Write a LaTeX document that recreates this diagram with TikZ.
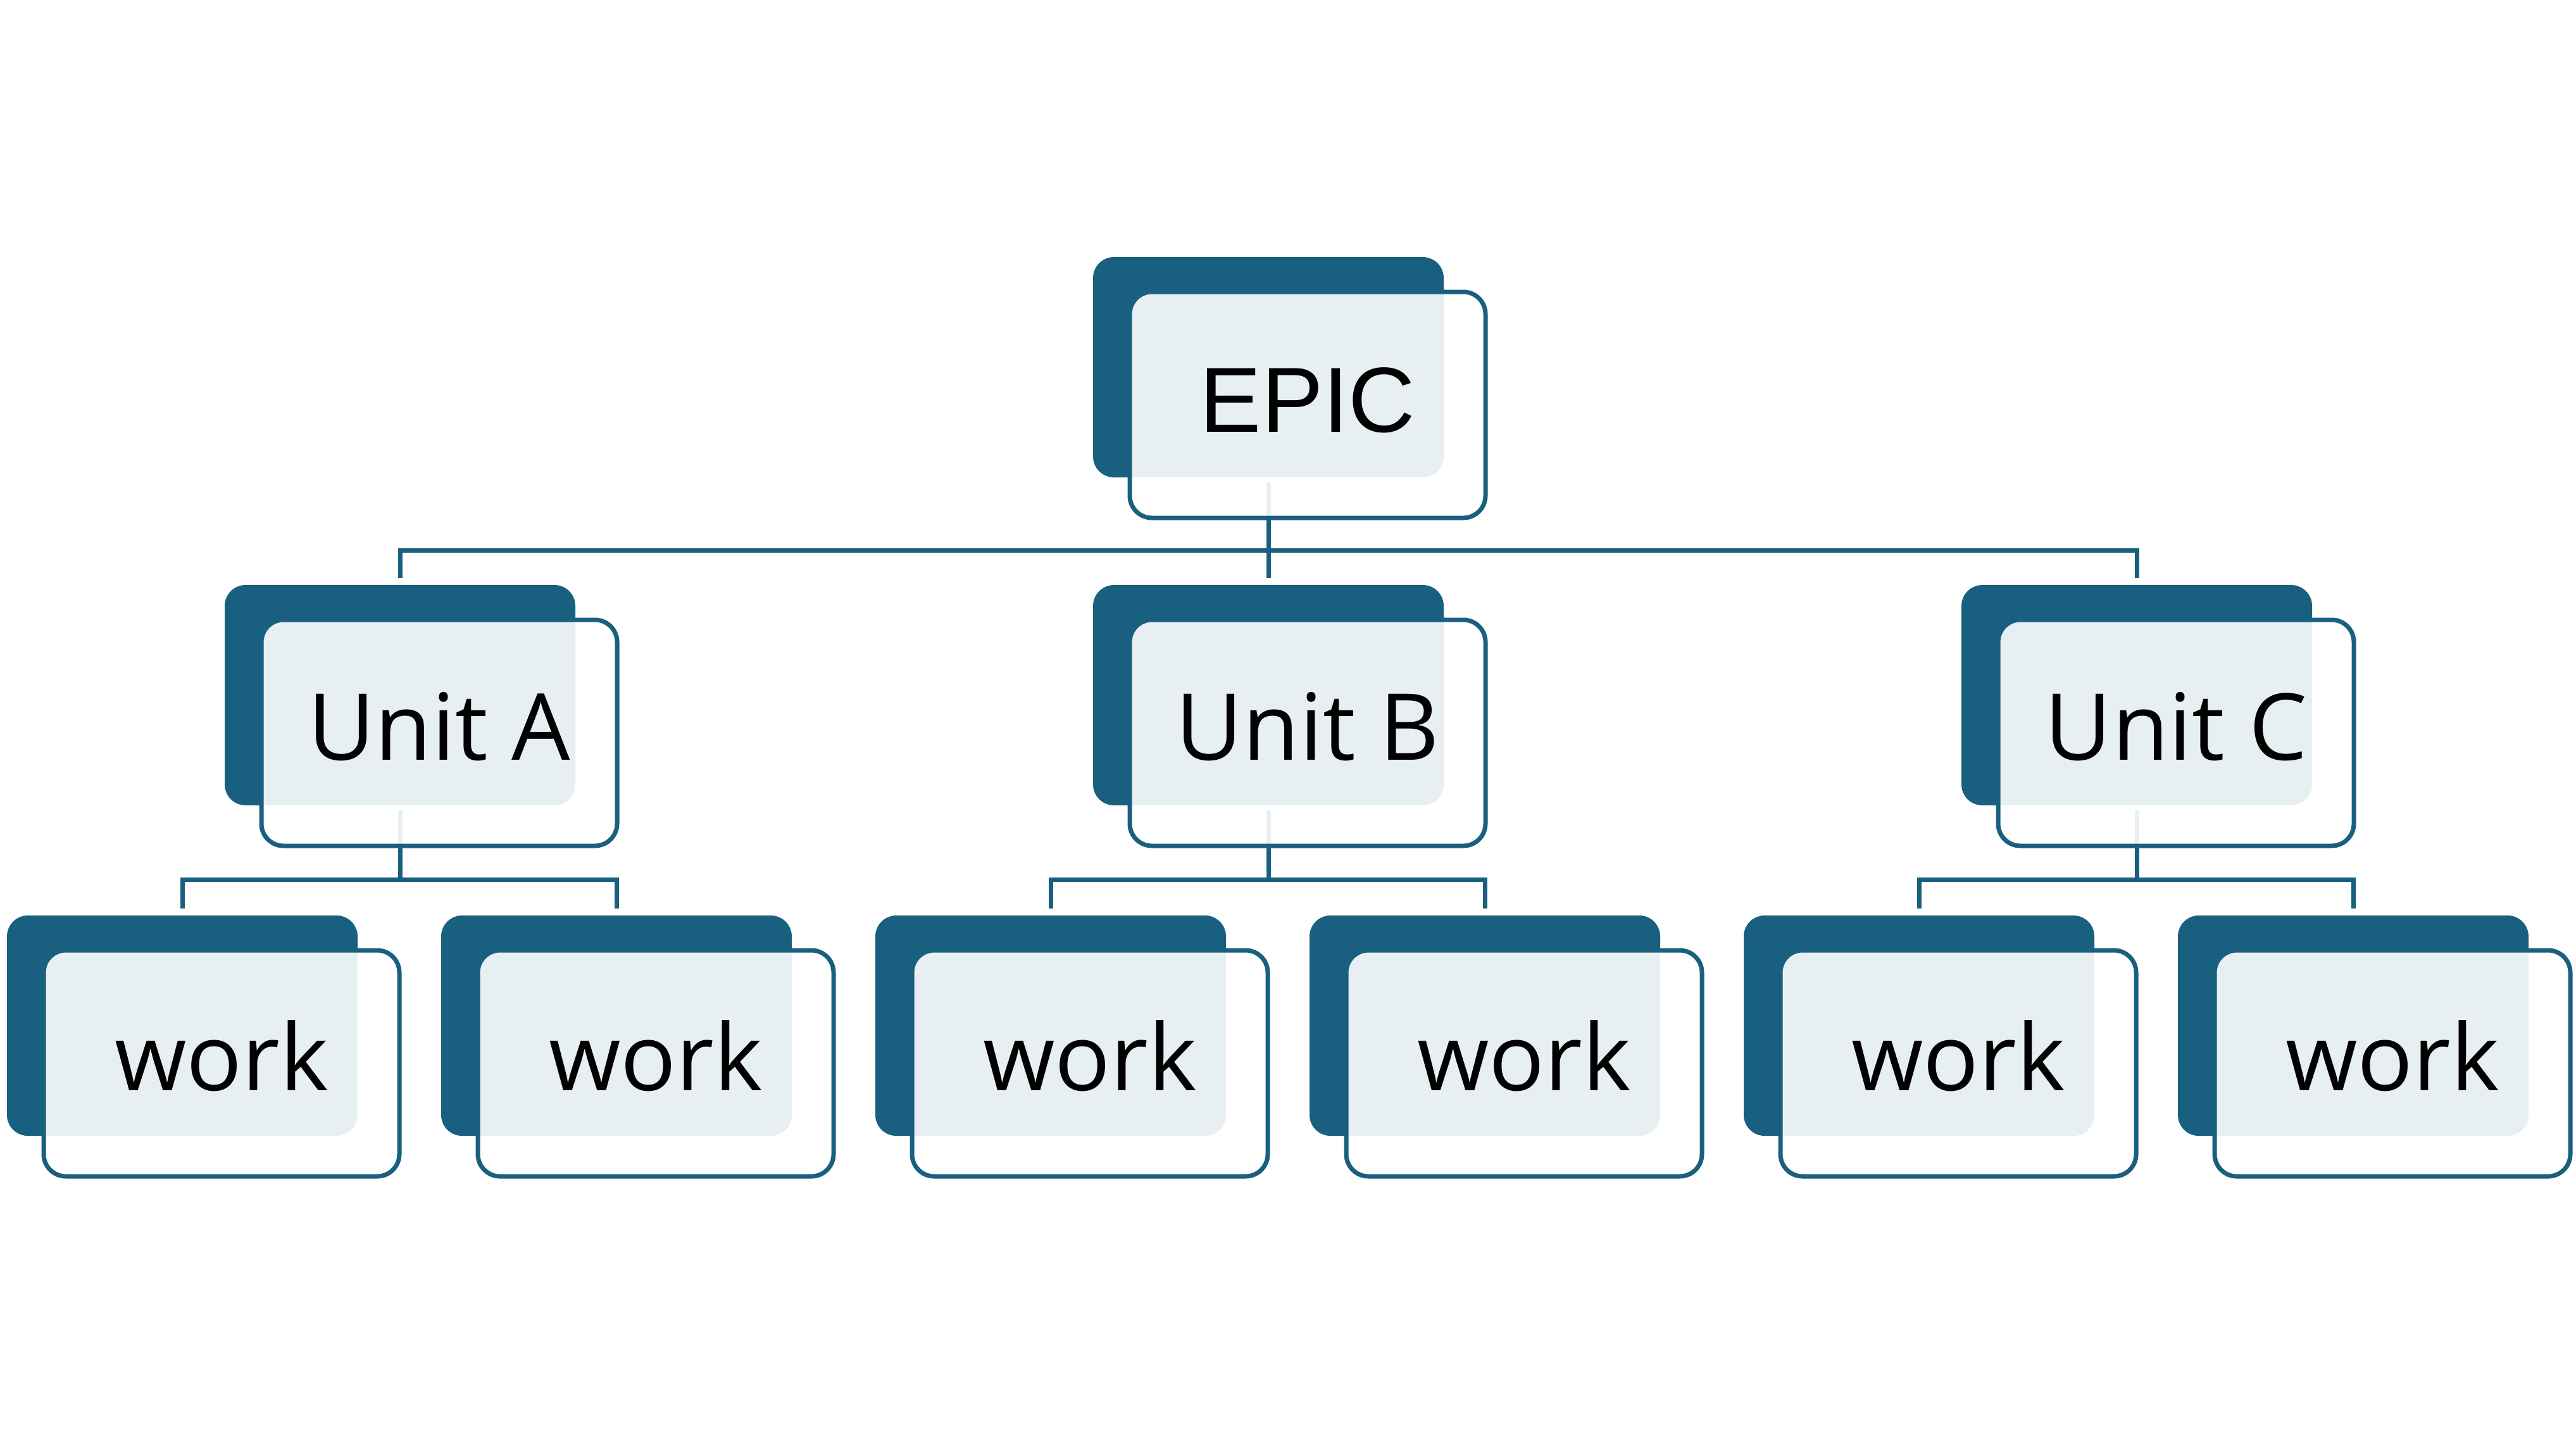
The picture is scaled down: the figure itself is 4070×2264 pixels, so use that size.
\documentclass[tikz,border=0pt]{standalone}
\usepackage{fontspec}
\setmainfont{Open Sans}
\newfontfamily\epicfont{Liberation Sans}
\usetikzlibrary{backgrounds}
\definecolor{dk}{RGB}{25,96,128}
\newcommand\mkorg[5]{%
  \node[darkbox] (#1D) at (#2,#3) {};
  \node[frontbox] (#1F) at ({#2+62},{#3+59.5}) {};
  \node[txt] (#1T) at ({#2+62},{#3+102}) {#5#4};
}
\begin{document}
\begin{tikzpicture}[x=0.25pt,y=-0.25pt,
  darkbox/.style={rectangle, fill=dk, rounded corners=8.25pt, minimum width=138.5pt, minimum height=87pt, inner sep=0pt},
  frontbox/.style={rectangle, draw=dk, line width=1.75pt, fill=white, fill opacity=0.9, rounded corners=8.75pt, minimum width=140.5pt, minimum height=89.25pt, inner sep=0pt},
  txt/.style={anchor=base, inner sep=0pt, font=\fontsize{36.5pt}{40pt}\selectfont, text=black},
  conn/.style={draw=dk, line width=1.75pt}]
\useasboundingbox (0,0) rectangle (4070,2264);

\mkorg{ep}{2004}{580}{EPIC}{\epicfont}
\mkorg{ua}{632}{1098}{Unit A}{}
\mkorg{ub}{2004}{1098}{Unit B}{}
\mkorg{uc}{3376}{1098}{Unit C}{}
\mkorg{wa}{288}{1620}{work}{}
\mkorg{wb}{974}{1620}{work}{}
\mkorg{wc}{1660}{1620}{work}{}
\mkorg{wd}{2346}{1620}{work}{}
\mkorg{we}{3032}{1620}{work}{}
\mkorg{wf}{3718}{1620}{work}{}

\coordinate (b0) at (2004,869);
\coordinate (bA) at (632,1389);
\coordinate (bB) at (2004,1389);
\coordinate (bC) at (3376,1389);

\begin{scope}[on background layer]
  \fill[white] (0,0) rectangle (4070,2264);
  \draw[conn] ([yshift=-1.75pt]epD.south) -- ([yshift=2.5pt]ubD.north);
  \draw[conn] ([yshift=2.5pt]uaD.north) |- (b0) -| ([yshift=2.5pt]ucD.north);
  \draw[conn] ([yshift=-1.75pt]uaD.south) -- (bA);
  \draw[conn] ([yshift=2.5pt]waD.north) |- (bA) -| ([yshift=2.5pt]wbD.north);
  \draw[conn] ([yshift=-1.75pt]ubD.south) -- (bB);
  \draw[conn] ([yshift=2.5pt]wcD.north) |- (bB) -| ([yshift=2.5pt]wdD.north);
  \draw[conn] ([yshift=-1.75pt]ucD.south) -- (bC);
  \draw[conn] ([yshift=2.5pt]weD.north) |- (bC) -| ([yshift=2.5pt]wfD.north);
\end{scope}
\end{tikzpicture}
\end{document}
